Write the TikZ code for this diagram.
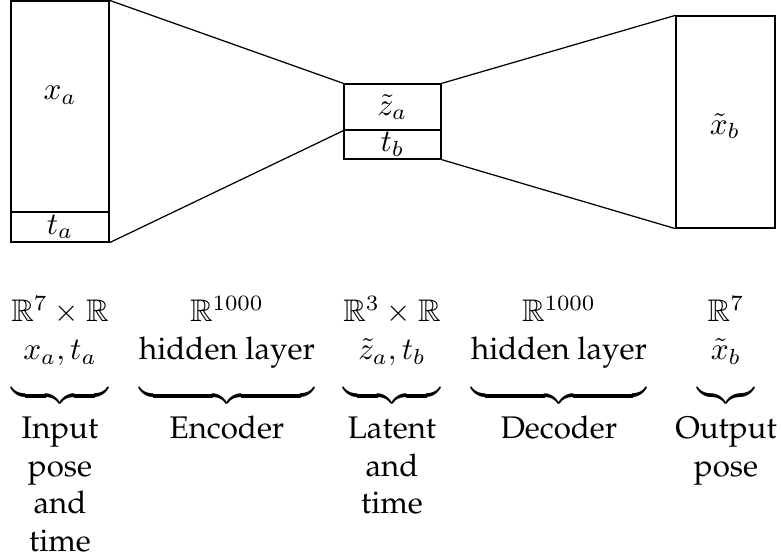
\documentclass[tikz,border=0pt]{standalone}
\usepackage[T1]{fontenc}
\renewcommand{\rmdefault}{ppl}
\usepackage{amsmath,amssymb}
\usetikzlibrary{fit}
\newcommand{\lowstrut}{\rule[-8pt]{0pt}{8pt}}
\begin{document}
\begin{tikzpicture}[x=0.32pt,y=-0.32pt,line width=0.4pt,
  box/.style={draw,inner sep=0pt},
  col/.style={anchor=north,inner sep=0pt},
  desc/.style={anchor=north,inner sep=0pt}]
\useasboundingbox (0,0) rectangle (781,558);
% layer blocks
\node[box,fit={(11,1)(109,212)}]   (inx)  {};
\node[box,fit={(11,212)(109,242)}] (int)  {};
\node[box,fit={(344,84)(441,130)}] (latz) {};
\node[box,fit={(344,130)(441,159)}](latt) {};
\node[box,fit={(676,16)(775,228)}] (outx) {};
% block labels
\node (lxa) at (60,95) {$x_a$};
\node (lta) at (int.center) {$t_a$};
\node (lza) at (latz.center) {$\tilde z_a$};
\node (ltb) at (latt.center) {$t_b$};
\node (lxb) at (725,126) {$\tilde x_b$};
% encoder / decoder outlines
\draw (inx.north east) -- (latz.north west);
\draw (int.south east) -- (latz.south west);
\draw (latz.north east) -- (outx.north west);
\draw (latt.south east) -- (outx.south west);
% dimensions with braces
\node[col] (c1) at (60,295)  {$\underbrace{\begin{array}{@{}c@{}}\mathbb{R}^7\times\mathbb{R}\\ x_a, t_a\lowstrut\end{array}}$};
\node[col] (c2) at (227,295) {$\underbrace{\begin{array}{@{}c@{}}\mathbb{R}^{1000}\\ \text{hidden layer}\lowstrut\end{array}}$};
\node[col] (c3) at (392,295) {$\underbrace{\begin{array}{@{}c@{}}\mathbb{R}^3\times\mathbb{R}\\ \tilde z_a, t_b\lowstrut\end{array}}$};
\node[col] (c4) at (559,295) {$\underbrace{\begin{array}{@{}c@{}}\mathbb{R}^{1000}\\ \text{hidden layer}\lowstrut\end{array}}$};
\node[col] (c5) at (726,295) {$\underbrace{\begin{array}{@{}c@{}}\mathbb{R}^7\\ \tilde x_b\lowstrut\end{array}}$};
% descriptions
\node[desc] (d1) at (60,412)  {\begin{tabular}{@{}c@{}}Input\\pose\\and\\time\end{tabular}};
\node[desc] (d2) at (227,412) {\begin{tabular}{@{}c@{}}Encoder\end{tabular}};
\node[desc] (d3) at (392,412) {\begin{tabular}{@{}c@{}}Latent\\and\\time\end{tabular}};
\node[desc] (d4) at (559,412) {\begin{tabular}{@{}c@{}}Decoder\end{tabular}};
\node[desc] (d5) at (726,412) {\begin{tabular}{@{}c@{}}Output\\pose\end{tabular}};
\end{tikzpicture}
\end{document}
